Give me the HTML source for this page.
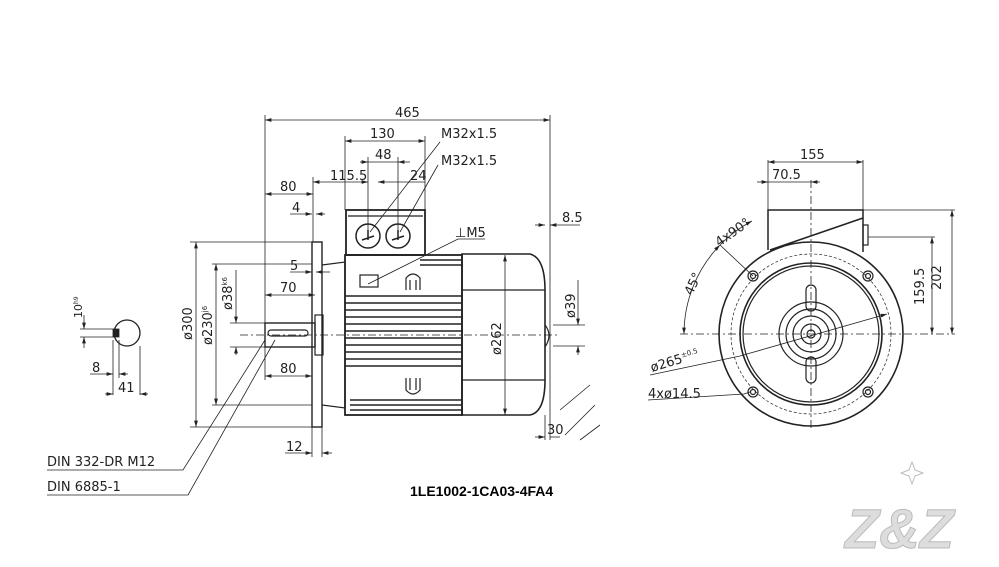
<!DOCTYPE html>
<html><head><meta charset="utf-8"><style>
html,body{margin:0;padding:0;background:#fff;}
svg{display:block;}
text{font-family:"DejaVu Sans","Liberation Sans",sans-serif;font-size:13px;fill:#222;}
</style></head><body>
<svg width="999" height="567" viewBox="0 0 999 567" xmlns="http://www.w3.org/2000/svg">
<defs>
<marker id="a" viewBox="0 0 10 6" refX="10" refY="3" markerWidth="8" markerHeight="5" orient="auto-start-reverse"><path d="M0,0L10,3L0,6z" fill="#222"/></marker>
</defs>
<g stroke="#222" stroke-width="1.2" fill="none">
<!-- side view -->
<rect x="312" y="242" width="10" height="185" stroke-width="1.4"/>
<rect x="265" y="323" width="50" height="24" stroke-width="1.4"/>
<rect x="268" y="330" width="40" height="6" rx="3"/>
<rect x="315" y="315" width="8" height="40"/>
<path d="M322,265 L345,262 L345,408 L322,405"/>
<rect x="345" y="255" width="117" height="160" stroke-width="1.8"/>
<g stroke-width="1.6">
<line x1="345" y1="296" x2="462" y2="296"/><line x1="345" y1="303" x2="462" y2="303"/><line x1="345" y1="310" x2="462" y2="310"/><line x1="345" y1="317" x2="462" y2="317"/><line x1="345" y1="324" x2="462" y2="324"/><line x1="345" y1="331" x2="462" y2="331"/><line x1="345" y1="338" x2="462" y2="338"/><line x1="345" y1="345" x2="462" y2="345"/><line x1="345" y1="352" x2="462" y2="352"/><line x1="345" y1="359" x2="462" y2="359"/><line x1="345" y1="366" x2="462" y2="366"/>
<line x1="350" y1="400" x2="462" y2="400"/><line x1="350" y1="405" x2="462" y2="405"/><line x1="350" y1="410" x2="462" y2="410"/>
<line x1="420" y1="260" x2="462" y2="260"/><line x1="420" y1="265" x2="462" y2="265"/>
</g>
<path d="M462,254 L530,254 Q545,258 545,290 L545,380 Q545,412 530,415 L462,415 Z" stroke-width="1.6"/>
<line x1="462" y1="290" x2="545" y2="290"/><line x1="462" y1="380" x2="545" y2="380"/>
<path d="M545,325 Q553,335 545,347" />
<rect x="346" y="210" width="79" height="45" stroke-width="1.8"/>
<line x1="348" y1="216" x2="423" y2="216"/>
<circle cx="368" cy="236" r="12" stroke-width="1.5"/><circle cx="398" cy="236" r="12" stroke-width="1.5"/>
<path d="M362,240 L374,236 M368,230 L368,240 M392,240 L404,236 M398,230 L398,240" stroke-width="1.5"/>
<rect x="360" y="275" width="18" height="12"/>
<path d="M406,290 L406,278 Q413,270 420,278 L420,290 M410,290 L410,280 M416,280 L416,290"/>
<path d="M406,378 L406,390 Q413,398 420,390 L420,378 M410,378 L410,390 M416,390 L416,378"/>
<line x1="240" y1="335" x2="560" y2="335" stroke-dasharray="8,3,2,3" stroke-width="0.7"/>
<!-- dimension lines -->
<g stroke-width="0.8">
<line x1="265" y1="115" x2="265" y2="323"/><line x1="550" y1="115" x2="550" y2="440"/>
<line x1="265" y1="120" x2="550" y2="120" marker-start="url(#a)" marker-end="url(#a)"/>
<line x1="345" y1="136" x2="345" y2="210"/><line x1="425" y1="136" x2="425" y2="210"/>
<line x1="345" y1="141" x2="425" y2="141" marker-start="url(#a)" marker-end="url(#a)"/>
<line x1="368" y1="157" x2="368" y2="236"/><line x1="398" y1="157" x2="398" y2="236"/>
<line x1="360" y1="162" x2="368" y2="162" marker-end="url(#a)"/><line x1="410" y1="162" x2="398" y2="162" marker-end="url(#a)"/><line x1="368" y1="162" x2="398" y2="162"/>
<line x1="313" y1="177" x2="313" y2="242"/>
<line x1="313" y1="182" x2="368" y2="182" marker-start="url(#a)" marker-end="url(#a)"/>
<line x1="378" y1="182" x2="398" y2="182" marker-start="url(#a)"/>
<line x1="398" y1="182" x2="425" y2="182"/>
<line x1="265" y1="194" x2="313" y2="194" marker-start="url(#a)" marker-end="url(#a)"/>
<line x1="290" y1="214" x2="312" y2="214" marker-end="url(#a)"/><line x1="325" y1="214" x2="316" y2="214" marker-end="url(#a)"/>
<line x1="290" y1="272" x2="312" y2="272" marker-end="url(#a)"/><line x1="330" y1="272" x2="316" y2="272" marker-end="url(#a)"/>
<line x1="265" y1="295" x2="315" y2="295" marker-start="url(#a)" marker-end="url(#a)"/>
<line x1="265" y1="376" x2="312" y2="376" marker-start="url(#a)" marker-end="url(#a)"/>
<line x1="265" y1="347" x2="265" y2="380"/>
<line x1="285" y1="453" x2="312" y2="453" marker-end="url(#a)"/><line x1="332" y1="453" x2="322" y2="453" marker-end="url(#a)"/>
<line x1="312" y1="427" x2="312" y2="457"/><line x1="322" y1="427" x2="322" y2="457"/>
<line x1="190" y1="242" x2="312" y2="242"/><line x1="190" y1="427" x2="312" y2="427"/>
<line x1="196" y1="242" x2="196" y2="427" marker-start="url(#a)" marker-end="url(#a)"/>
<line x1="212" y1="264" x2="312" y2="264"/><line x1="212" y1="405" x2="312" y2="405"/>
<line x1="216" y1="264" x2="216" y2="405" marker-start="url(#a)" marker-end="url(#a)"/>
<line x1="230" y1="323" x2="265" y2="323"/><line x1="230" y1="347" x2="265" y2="347"/>
<line x1="236" y1="270" x2="236" y2="323" marker-end="url(#a)"/><line x1="236" y1="355" x2="236" y2="347" marker-end="url(#a)"/>
<line x1="505" y1="255" x2="505" y2="415" marker-start="url(#a)" marker-end="url(#a)"/>
<line x1="553" y1="325" x2="585" y2="325"/><line x1="553" y1="346" x2="585" y2="346"/>
<line x1="578" y1="280" x2="578" y2="325" marker-end="url(#a)"/><line x1="578" y1="355" x2="578" y2="346" marker-end="url(#a)"/>
<line x1="535" y1="225" x2="545" y2="225" marker-end="url(#a)"/><line x1="580" y1="225" x2="550" y2="225" marker-end="url(#a)"/>
<line x1="535" y1="437" x2="545" y2="437" marker-end="url(#a)"/><line x1="560" y1="437" x2="550" y2="437"/>
<line x1="545" y1="415" x2="545" y2="440"/>
<path d="M560,410 L590,385 M565,435 L595,405 M580,440 L600,425"/>
<!-- leaders -->
<path d="M440,142 L370,232 M438,165 L400,232 M485,239 L458,239 L368,284"/>
<path d="M47,470 L183,470 L265,340 M47,495 L188,495 L275,340"/>
<!-- left small section -->
<circle cx="127" cy="333" r="13" stroke-width="1.3"/>
<rect x="113" y="329" width="6" height="8" fill="#222"/>
<line x1="80" y1="329" x2="113" y2="329"/><line x1="80" y1="337" x2="113" y2="337"/>
<line x1="84" y1="315" x2="84" y2="329" marker-end="url(#a)"/><line x1="84" y1="348" x2="84" y2="337" marker-end="url(#a)"/>
<line x1="113" y1="340" x2="113" y2="395"/><line x1="119" y1="340" x2="119" y2="378"/><line x1="140" y1="346" x2="140" y2="395"/>
<line x1="90" y1="374" x2="113" y2="374" marker-end="url(#a)"/><line x1="128" y1="374" x2="119" y2="374" marker-end="url(#a)"/>
<line x1="105" y1="394" x2="113" y2="394" marker-end="url(#a)"/><line x1="148" y1="394" x2="140" y2="394" marker-end="url(#a)"/>
</g>
<!-- front view -->
<circle cx="811" cy="334" r="92" stroke-width="1.6"/>
<circle cx="811" cy="334" r="80" stroke-dasharray="3,2" stroke-width="0.7"/>
<circle cx="811" cy="334" r="71" stroke-width="1.6"/>
<circle cx="811" cy="334" r="68"/>
<circle cx="811" cy="334" r="32"/><circle cx="811" cy="334" r="25"/><circle cx="811" cy="334" r="18"/><circle cx="811" cy="334" r="10"/><circle cx="811" cy="334" r="4"/>
<rect x="806" y="285" width="10" height="26" rx="5"/><rect x="806" y="357" width="10" height="26" rx="5"/>
<circle cx="753" cy="276" r="5"/><circle cx="868" cy="276" r="5"/><circle cx="753" cy="392" r="5"/><circle cx="868" cy="392" r="5"/>
<circle cx="753" cy="276" r="2.5"/><circle cx="868" cy="276" r="2.5"/><circle cx="753" cy="392" r="2.5"/><circle cx="868" cy="392" r="2.5"/>
<path d="M768,250 L768,210 L863,210 L863,252 M770,250 L863,218" stroke-width="1.5"/>
<rect x="863" y="225" width="5" height="20"/>
<g stroke-width="0.8">
<line x1="680" y1="334" x2="955" y2="334" stroke-dasharray="8,3,2,3"/>
<line x1="811" y1="180" x2="811" y2="430" stroke-dasharray="8,3,2,3"/>
<line x1="768" y1="160" x2="768" y2="210"/><line x1="863" y1="160" x2="863" y2="210"/>
<line x1="768" y1="162" x2="863" y2="162" marker-start="url(#a)" marker-end="url(#a)"/>
<line x1="757" y1="182" x2="768" y2="182" marker-end="url(#a)"/><line x1="820" y1="182" x2="811" y2="182" marker-end="url(#a)"/><line x1="768" y1="182" x2="811" y2="182"/>
<line x1="863" y1="210" x2="955" y2="210"/><line x1="868" y1="237" x2="935" y2="237"/>
<line x1="952" y1="210" x2="952" y2="334" marker-start="url(#a)" marker-end="url(#a)"/>
<line x1="932" y1="237" x2="932" y2="334" marker-start="url(#a)" marker-end="url(#a)"/>
<path d="M684,334 A128,128 0 0 1 720,245" marker-start="url(#a)" marker-end="url(#a)"/>
<path d="M720,245 A128,128 0 0 1 752,221" marker-end="url(#a)"/>
<line x1="720" y1="245" x2="753" y2="276"/>
<path d="M650,375 L740,356 L887,314" marker-end="url(#a)"/>
<path d="M648,400 L744,394 L750,392"/>
</g>
</g>
<!-- texts -->
<text x="395" y="117">465</text>
<text x="370" y="138">130</text>
<text x="375" y="159">48</text>
<text x="441" y="138">M32x1.5</text>
<text x="441" y="165">M32x1.5</text>
<text x="330" y="180">115.5</text>
<text x="410" y="180">24</text>
<text x="280" y="191">80</text>
<text x="292" y="212">4</text>
<text x="455" y="237">⊥M5</text>
<text x="562" y="222">8.5</text>
<text x="290" y="270">5</text>
<text x="280" y="292">70</text>
<text x="280" y="373">80</text>
<text x="286" y="451">12</text>
<text x="547" y="434">30</text>
<text transform="translate(192,340) rotate(-90)">ø300</text>
<text transform="translate(212,345) rotate(-90)">ø230<tspan font-size="7" dy="-5">j6</tspan></text>
<text transform="translate(232,310) rotate(-90)">ø38<tspan font-size="7" dy="-5">k6</tspan></text>
<text transform="translate(501,355) rotate(-90)">ø262</text>
<text transform="translate(575,318) rotate(-90)">ø39</text>
<text transform="translate(82,318) rotate(-90)" style="font-size:11px">10<tspan font-size="6" dy="-4">h9</tspan></text>
<text x="92" y="372">8</text>
<text x="118" y="392">41</text>
<text x="47" y="466">DIN 332-DR M12</text>
<text x="47" y="491">DIN 6885-1</text>
<text x="410" y="496" style="font-family:'Liberation Sans',sans-serif;font-weight:bold;font-size:14px;fill:#000">1LE1002-1CA03-4FA4</text>
<text x="800" y="159">155</text>
<text x="772" y="179">70.5</text>
<text transform="translate(941,290) rotate(-90)">202</text>
<text transform="translate(924,305) rotate(-90)">159.5</text>
<text transform="translate(692,296) rotate(-65)">45°</text>
<text transform="translate(719,247) rotate(-35)">4x90°</text>
<text transform="translate(652,372) rotate(-17)">ø265<tspan font-size="7" dy="-5">±0.5</tspan></text>
<text x="648" y="398">4xø14.5</text>
<text x="845" y="548" style="font-family:'Liberation Sans',sans-serif;font-weight:bold;font-style:italic;font-size:56px;fill:#ddd;stroke:#bbb;stroke-width:1">Z&amp;Z</text>
<path d="M912,462 L915,470 L923,473 L915,476 L912,484 L909,476 L901,473 L909,470Z" fill="none" stroke="#bbb"/>
</svg>
</body></html>
